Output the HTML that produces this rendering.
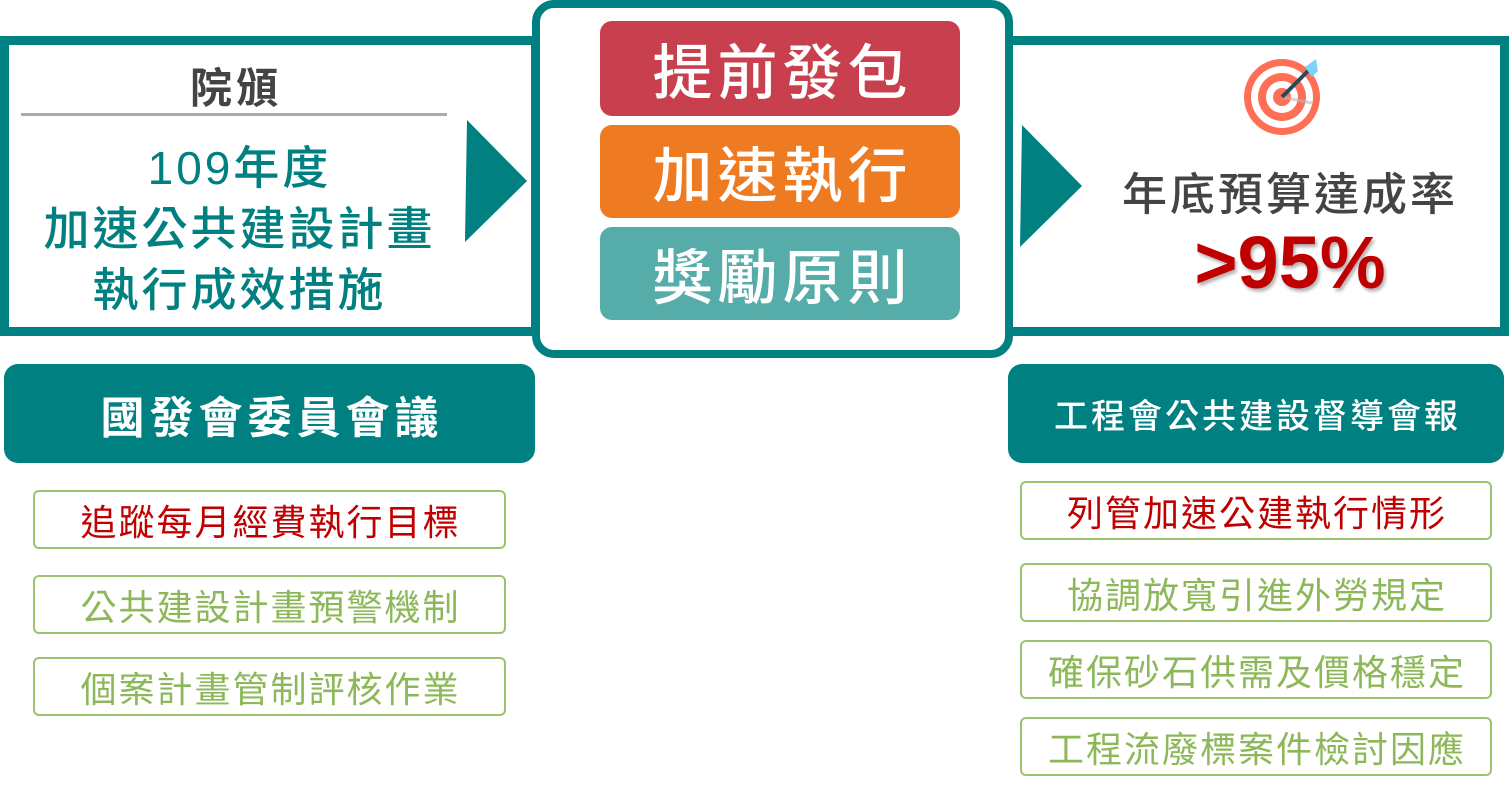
<!DOCTYPE html>
<html><head><meta charset="utf-8"><style>
body{margin:0;width:1509px;height:794px;background:#fff;position:relative;overflow:hidden;font-family:"Liberation Sans","Noto Sans CJK TC",sans-serif}
.a{position:absolute;box-sizing:border-box}
.c{display:flex;align-items:center;justify-content:center;white-space:nowrap}
.pill{border-radius:12px;color:#fff;font-size:60px;font-weight:500;letter-spacing:5px;padding-left:5px}
.item{border:2px solid #9DC26E;border-radius:6px;font-size:36px;color:#8DB85A;letter-spacing:2px;padding-left:2px}
</style></head><body>
<div class="a" style="left:0;top:36px;width:540px;height:300px;border:9px solid #008080;"></div>
<div class="a" style="left:1000px;top:36px;width:509px;height:300px;border:9px solid #008080;"></div>
<div class="a" style="left:532px;top:0;width:481px;height:358px;border:8px solid #008080;border-radius:22px;background:#fff"></div>

<div class="a c" style="left:20px;top:55px;width:428px;height:60px;font-size:42px;color:#444;font-weight:bold;letter-spacing:4px;padding-left:4px">院頒</div>
<div class="a" style="left:21px;top:113px;width:426px;height:3px;background:#aaa"></div>
<div class="a" style="left:18px;top:138px;width:440px;text-align:center;font-size:46px;line-height:61px;color:#008080;font-weight:500;letter-spacing:3px;padding-left:3px">109年度<br>加速公共建設計畫<br>執行成效措施</div>
<svg class="a" style="left:465px;top:120px" width="62" height="122"><polygon points="2,0 62,61 0,122" fill="#008080"/></svg>
<svg class="a" style="left:1020px;top:125px" width="62" height="122"><polygon points="2,0 62,61 0,122" fill="#008080"/></svg>

<div class="a c pill" style="left:600px;top:21px;width:360px;height:95px;background:#C8404E">提前發包</div>
<div class="a c pill" style="left:600px;top:125px;width:360px;height:93px;background:#EE7A22">加速執行</div>
<div class="a c pill" style="left:600px;top:227px;width:360px;height:93px;background:#55ACA8">獎勵原則</div>

<svg class="a" style="left:1240px;top:55px" width="90" height="85">
<circle cx="42" cy="42" r="38" fill="#FF6F55"/><circle cx="42" cy="42" r="31" fill="#fff"/><circle cx="42" cy="42" r="24" fill="#FF6F55"/><circle cx="42" cy="42" r="16" fill="#fff"/><circle cx="42" cy="42" r="9" fill="#FF6F55"/>
<line x1="42" y1="42" x2="72" y2="48" stroke="#bbb" stroke-width="3" opacity=".6"/>
<line x1="42" y1="42" x2="68" y2="16" stroke="#2F4858" stroke-width="4"/>
<polygon points="65,12 76,4 78,16 72,22" fill="#7DD3F5"/>
</svg>
<div class="a c" style="left:1090px;top:160px;width:400px;height:60px;font-size:45px;color:#444;font-weight:500;letter-spacing:3px">年底預算達成率</div>
<div class="a c" style="left:1140px;top:225px;width:300px;height:75px;font-size:74px;color:#C00000;font-weight:bold;text-shadow:2px 3px 3px rgba(0,0,0,.3)">&gt;95%</div>

<div class="a c" style="left:4px;top:364px;width:531px;height:99px;background:#008080;border-radius:14px;color:#fff;font-size:44px;font-weight:bold;letter-spacing:5px;padding-left:5px">國發會委員會議</div>
<div class="a c" style="left:1008px;top:364px;width:496px;height:99px;background:#008080;border-radius:14px;color:#fff;font-size:34px;font-weight:500;letter-spacing:3px;padding-left:3px">工程會公共建設督導會報</div>

<div class="a c item" style="left:33px;top:490px;width:473px;height:59px;color:#C00000">追蹤每月經費執行目標</div>
<div class="a c item" style="left:33px;top:575px;width:473px;height:59px">公共建設計畫預警機制</div>
<div class="a c item" style="left:33px;top:657px;width:473px;height:59px">個案計畫管制評核作業</div>

<div class="a c item" style="left:1020px;top:481px;width:472px;height:59px;color:#C00000">列管加速公建執行情形</div>
<div class="a c item" style="left:1020px;top:563px;width:472px;height:59px">協調放寬引進外勞規定</div>
<div class="a c item" style="left:1020px;top:640px;width:472px;height:59px">確保砂石供需及價格穩定</div>
<div class="a c item" style="left:1020px;top:717px;width:472px;height:59px">工程流廢標案件檢討因應</div>
</body></html>
